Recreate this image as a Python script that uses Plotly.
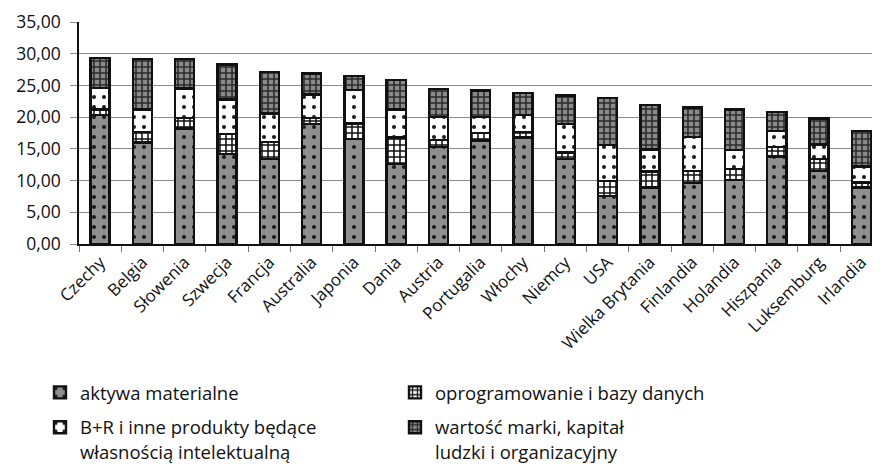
import plotly.graph_objects as go

countries = ["Czechy", "Belgia", "Słowenia", "Szwecja", "Francja", "Australia", "Japonia",
             "Dania", "Austria", "Portugalia", "Włochy", "Niemcy", "USA", "Wielka Brytania",
             "Finlandia", "Holandia", "Hiszpania", "Luksemburg", "Irlandia"]

aktywa_materialne = [20.3, 16.0, 18.2, 14.2, 13.4, 18.9, 16.6, 12.6, 15.3, 16.3, 16.8, 13.4,
                     7.6, 8.9, 9.6, 10.1, 13.8, 11.5, 8.9]
oprogramowanie = [0.9, 1.7, 1.7, 3.1, 2.7, 1.0, 2.4, 4.2, 1.1, 1.2, 0.9, 1.0,
                  2.3, 2.5, 1.9, 1.7, 1.5, 1.9, 0.8]
badania_ip = [3.4, 3.5, 4.6, 5.5, 4.5, 3.7, 5.3, 4.4, 3.6, 2.5, 2.6, 4.5,
              5.7, 3.5, 5.4, 3.0, 2.5, 2.3, 2.5]
marka_kapital = [4.7, 8.0, 4.7, 5.5, 6.5, 3.3, 2.2, 4.7, 4.4, 4.2, 3.5, 4.5,
                 7.4, 7.0, 4.6, 6.4, 3.0, 4.1, 5.6]

series_names = ["aktywa materialne",
                "oprogramowanie i bazy danych",
                "B+R i inne produkty będące<br>własnością intelektualną",
                "wartość marki, kapitał<br>ludzki i organizacyjny"]

FONT = "Open Sans, Noto Sans, DejaVu Sans, sans-serif"

styles = [
    dict(shape=".", bgcolor="#8f8f8f", fgcolor="#1a1a1a", size=10, solidity=0.13),
    dict(shape="+", bgcolor="#ffffff", fgcolor="#111111", size=6, solidity=0.45),
    dict(shape=".", bgcolor="#ffffff", fgcolor="#1a1a1a", size=10, solidity=0.13),
    dict(shape="+", bgcolor="#8a8a8a", fgcolor="#2a2a2a", size=6, solidity=0.45),
]
legend_ids = ["legend", "legend", "legend2", "legend2"]
values = [aktywa_materialne, oprogramowanie, badania_ip, marka_kapital]

fig = go.Figure()
for name, vals, st, lg in zip(series_names, values, styles, legend_ids):
    fig.add_trace(go.Bar(
        x=countries, y=vals, name=name, legend=lg,
        marker=dict(color=st["bgcolor"],
                    pattern=dict(shape=st["shape"], bgcolor=st["bgcolor"], fgcolor=st["fgcolor"],
                                 size=st["size"], solidity=st["solidity"], fillmode="replace"),
                    line=dict(color="#111111", width=2.4)),
    ))

legend_common = dict(orientation="h", x=-0.0487, xanchor="left", yanchor="top",
                     entrywidth=310, entrywidthmode="pixels", valign="top",
                     traceorder="normal", font=dict(family=FONT, size=18.5, color="#111111"),
                     itemwidth=30, bgcolor="rgba(0,0,0,0)")

fig.update_layout(
    barmode="stack",
    bargap=0.55,
    width=872, height=460,
    margin=dict(l=71, r=0, t=14, b=224, autoexpand=False),
    paper_bgcolor="white", plot_bgcolor="white",
    separators=", ",
    font=dict(family=FONT, size=17, color="#111111"),
    showlegend=True,
    legend=dict(legend_common, y=-0.585),
    legend2=dict(legend_common, y=-0.742),
)
fig.update_xaxes(
    type="category", tickangle=-45, showline=True, linecolor="#111111", linewidth=1.5,
    ticks="outside", tickson="boundaries", ticklen=6, tickcolor="#777777",
    tickfont=dict(family=FONT, size=17, color="#111111"), showgrid=False,
    range=[-0.5, 18.44], automargin=False,
)
fig.update_yaxes(
    range=[0, 35], dtick=5, tickformat=".2f", showline=True, linecolor="#111111", linewidth=1.5,
    showgrid=True, gridcolor="#8a8a8a", gridwidth=1.2, ticks="outside", ticklen=7,
    tickcolor="#8a8a8a", tickfont=dict(family=FONT, size=17.5, color="#111111"), zeroline=False,
    automargin=False, ticklabelstandoff=6,
)

fig.write_html("out.html")
